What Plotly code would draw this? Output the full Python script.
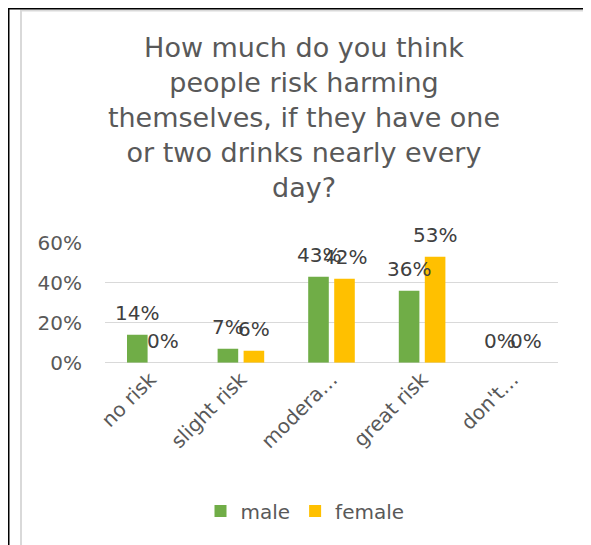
import plotly.graph_objects as go

categories = ["no risk", "slight risk", "moderate risk", "great risk", "don't know"]
tick_labels = ["no risk", "slight risk", "modera…", "great risk", "don't…"]
male = [0.14, 0.07, 0.43, 0.36, 0.00]
female = [0.00, 0.06, 0.42, 0.53, 0.00]
series_names = ["male", "female"]
series_colors = ["#70AD47", "#FFC000"]

# page body has an 8px margin; figure sized to fit the 591x545 window
OFF = 8
W, H = 591 - OFF, 545 - OFF
FONT = "DejaVu Sans"
GREY = "#595959"

def px(x):
    return (x - OFF) / W

def py(y):
    return 1 - (y - OFF) / H

fig = go.Figure()
for name, vals, col in zip(series_names, [male, female], series_colors):
    fig.add_trace(go.Bar(x=categories, y=vals, name=name, marker_color=col,
                         marker_line_width=0))

# data labels
annotations = []
for vals, shift in [(male, -13), (female, 13)]:
    for c, v in zip(categories, vals):
        annotations.append(dict(x=c, y=v, xref="x", yref="y", xshift=shift, yshift=22,
                                text=f"{round(v*100):.0f}%", showarrow=False,
                                font=dict(family=FONT, size=20, color="#404040"),
                                xanchor="center", yanchor="middle"))

shapes = [
    # chart area border
    dict(type="rect", xref="paper", yref="paper", x0=px(21), x1=px(588), y0=-0.2, y1=py(10.5),
         line=dict(color="#d9d9d9", width=2), layer="below"),
    # sheet borders
    dict(type="line", xref="paper", yref="paper", x0=0, x1=0, y0=1, y1=0,
         line=dict(color="black", width=3)),
    dict(type="line", xref="paper", yref="paper", x0=0, x1=px(585), y0=1, y1=1,
         line=dict(color="black", width=3)),
]

fig.update_layout(
    width=W, height=H,
    margin=dict(l=0, r=0, t=0, b=0, pad=0, autoexpand=False),
    paper_bgcolor="white", plot_bgcolor="white",
    font=dict(family=FONT, size=20, color=GREY),
    title=dict(text="How much do you think<br>people risk harming<br>themselves, if they have one<br>or two drinks nearly every<br>day?",
               x=px(304), xanchor="center", y=py(57), yanchor="top",
               font=dict(family=FONT, size=27, color=GREY)),
    barmode="group", bargap=0.426, bargroupgap=0.208,
    xaxis=dict(domain=[px(105), px(558)], tickangle=-45, tickmode="array",
               tickvals=categories, ticktext=tick_labels, showgrid=False, automargin=False,
               showline=False, ticks="", tickfont=dict(size=20, color=GREY)),
    yaxis=dict(domain=[py(362.7), py(242.7)], range=[0, 0.6], dtick=0.2, tickformat=".0%",
               showgrid=True, gridcolor="#d9d9d9", gridwidth=1.3, zeroline=True, automargin=False,
               zerolinecolor="#d9d9d9", zerolinewidth=1.3, showline=False, ticks="",
               ticklabelstandoff=22, tickfont=dict(size=20, color=GREY)),
    showlegend=True,
    legend=dict(orientation="h", x=px(305), xanchor="center", y=py(511), yanchor="middle",
                font=dict(size=20, color=GREY), itemwidth=30, bgcolor="rgba(0,0,0,0)"),
    annotations=annotations,
    shapes=shapes,
)

fig.write_html("out.html")
